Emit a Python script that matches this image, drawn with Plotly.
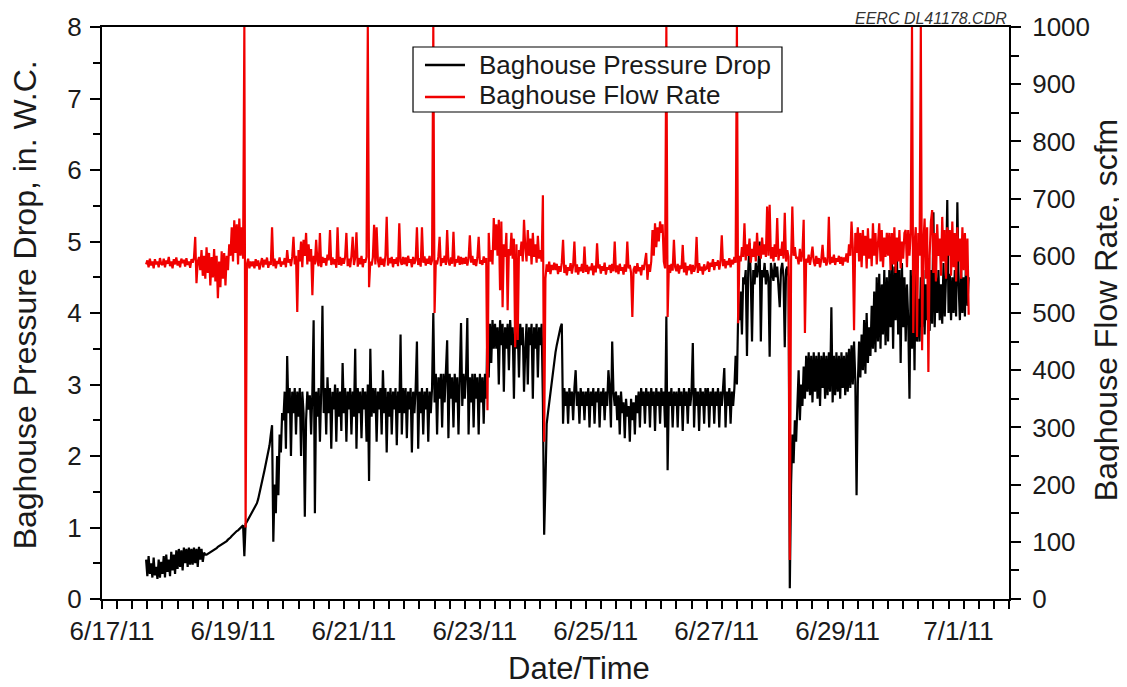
import pandas as pd
import plotly.graph_objects as go

# ---------------- data (30-min samples) ----------------
start_time = "2011-06-17 17:30"
sample_step = "30min"

# Baghouse pressure drop, in. W.C. (one list per day)
dp_0617 = [0.55,0.32,0.6,0.35,0.5,0.3,0.58,0.33,0.45,0.28,0.55,0.3,0.52]
dp_0618 = [0.35,0.6,0.3,0.62,0.38,0.55,0.32,0.66,0.4,0.62,0.35,0.68,0.42,0.7,0.45,0.68,0.4,0.72,0.5,0.7,0.45,0.72,0.48,0.7,
           0.48,0.72,0.5,0.7,0.45,0.73,0.55,0.7,0.52,0.65,0.62,0.62,0.63,0.65,0.66,0.66,0.68,0.69,0.7,0.71,0.73,0.74,0.75,0.77]
dp_0619 = [0.77,0.78,0.8,0.81,0.83,0.84,0.86,0.88,0.9,0.91,0.93,0.95,0.96,0.98,0.99,1.01,1.03,0.6,1.05,1.08,1.11,1.14,1.17,1.2,
           1.24,1.27,1.3,1.34,1.4,1.47,1.55,1.63,1.72,1.8,1.88,1.95,2.05,2.15,2.3,2.43,0.8,1.6,1.2,2.0,1.45,2.3,2.05,2.6]
dp_0620 = [2.5,2.9,2.1,3.4,2.6,2.95,2.0,2.9,2.6,2.95,2.3,2.9,2.55,2.95,2.0,2.9,2.6,1.15,2.5,2.9,2.65,2.85,2.3,2.9,
           3.9,1.2,2.9,2.55,2.95,2.2,2.9,4.1,2.6,2.95,2.3,3.1,2.6,2.95,2.1,2.9,2.65,3.0,2.2,2.95,2.55,2.9,2.35,3.3]
dp_0621 = [2.6,2.95,2.2,2.9,2.65,2.95,2.3,2.9,2.55,3.5,2.1,2.95,2.6,2.9,2.25,2.95,2.65,2.9,2.2,3.0,1.65,3.5,2.55,2.95,
           2.6,2.95,2.2,2.9,2.65,2.95,2.3,3.2,2.6,2.95,2.05,2.9,2.55,2.95,2.3,2.9,2.65,2.95,2.15,2.9,2.6,3.7,2.3,2.95]
dp_0622 = [2.6,2.95,2.25,2.9,2.65,2.95,2.05,2.9,2.6,2.95,3.6,2.1,2.9,2.6,2.95,2.3,2.9,2.65,2.95,2.2,2.9,2.6,2.95,4.0,
           2.75,3.15,2.3,3.1,2.8,3.15,2.4,3.15,2.75,3.1,3.62,2.25,3.15,2.8,3.1,2.4,3.15,2.75,3.1,2.3,3.15,3.86,2.7,3.15]
dp_0623 = [2.8,3.15,3.93,2.3,3.1,2.75,3.15,2.4,3.15,2.8,3.1,2.3,3.15,2.75,3.1,2.45,3.15,2.8,3.85,3.1,3.85,3.3,3.9,3.5,
           3.85,3.5,3.8,3.0,3.9,3.55,3.85,2.9,3.8,3.5,3.85,3.2,3.9,3.55,3.8,2.8,3.85,3.5,3.8,3.1,3.85,3.55,3.8,2.9]
dp_0624 = [3.5,3.85,3.0,3.8,3.55,3.85,2.8,3.8,3.5,3.85,3.1,3.8,3.55,3.85,2.75,0.9,1.6,2.45,2.6,2.75,2.9,3.05,3.2,3.35,
           3.45,3.55,3.65,3.72,3.8,3.85,2.45,2.95,2.7,2.9,2.45,2.95,2.7,2.9,2.5,2.95,3.2,2.7,2.9,2.45,2.95,2.7,2.9,2.5]
dp_0625 = [2.9,2.7,2.95,2.4,2.9,2.7,2.95,2.45,2.9,2.75,2.95,2.4,2.9,2.7,2.95,2.5,2.9,2.7,3.2,2.95,2.4,3.6,2.9,2.7,
           2.9,2.5,2.85,2.3,2.9,2.6,2.75,2.25,2.8,2.55,2.7,2.2,2.8,2.5,2.75,2.3,2.85,2.6,2.9,2.4,2.95,2.7,2.9,2.45]
dp_0626 = [2.95,2.7,2.9,2.4,2.95,2.7,2.9,2.35,2.95,2.7,2.9,2.45,2.95,2.7,2.9,2.4,3.95,1.8,2.9,2.7,2.95,2.4,2.9,2.7,
           2.9,2.4,2.95,2.7,2.9,2.35,2.95,2.7,2.9,2.45,2.95,2.7,2.9,3.58,2.4,2.95,2.7,2.9,2.35,2.95,2.7,2.9,2.45,2.95]
dp_0627 = [2.7,2.95,2.4,2.9,2.7,2.95,2.45,2.9,2.7,2.95,2.4,2.9,2.7,2.95,3.23,2.4,2.9,2.7,2.95,2.45,2.9,2.7,2.95,3.4,
           3.0,4.0,3.9,4.3,3.7,4.5,4.4,4.6,3.4,4.6,4.98,4.5,3.6,4.6,4.4,4.7,4.5,4.65,5.0,3.6,4.6,4.5,4.7,4.4]
dp_0628 = [4.6,4.5,3.39,4.7,4.6,4.45,4.7,4.5,4.65,4.4,4.08,4.6,4.7,4.5,3.52,4.6,4.65,4.5,0.15,1.6,2.3,1.9,2.5,2.2,
           2.6,3.2,2.5,3.0,2.7,3.25,2.8,3.4,2.9,3.45,2.85,3.4,2.75,3.45,2.9,3.4,2.8,3.45,2.7,3.4,2.95,3.45,2.8,3.4]
dp_0629 = [2.85,3.45,2.9,4.08,2.75,3.4,2.85,3.45,2.9,3.4,2.8,3.45,2.95,3.4,2.85,3.45,2.9,3.5,2.95,3.55,3.0,3.6,3.05,1.45,
           3.0,3.6,3.1,3.7,3.2,3.9,3.15,4.0,3.3,3.8,3.4,4.1,3.5,4.3,3.45,4.5,3.6,4.55,3.5,4.4,3.7,4.6,3.55,4.5]
dp_0630 = [3.6,4.6,3.8,4.7,3.5,4.65,3.9,4.85,3.7,4.6,3.3,4.7,3.8,4.5,3.6,4.4,3.9,2.8,4.6,3.5,4.7,3.2,4.85,3.6,
           4.2,3.6,4.5,3.8,4.6,3.7,4.4,3.9,4.5,3.75,4.6,3.85,5.41,3.8,4.5,4.0,4.6,3.9,4.4,3.85,4.7,3.95,4.5,5.58]
dp_0701 = [4.0,4.55,3.9,4.5,4.0,4.6,3.95,5.55,4.4,3.9,4.6,4.0,4.5,3.95,4.9,4.1,4.5]

# Baghouse flow rate, scfm (one list per day)
fl_0617 = [585,592,580,595,583,590,578,594,585,590,580,596,586]
fl_0618 = [584,595,580,592,586,598,582,590,578,594,585,597,583,591,580,595,587,593,581,596,584,590,579,594,
           588,596,633,552,590,598,575,610,565,600,560,615,570,605,548,598,562,612,555,600,526,590,545,608]
fl_0619 = [560,605,548,600,575,620,600,650,590,662,605,655,585,665,600,650,595,1000,125,585,595,578,590,582,
           590,578,594,582,592,576,588,596,580,593,585,597,579,590,584,650,582,595,578,591,586,597,581,590]
fl_0620 = [585,596,580,610,588,594,582,598,633,585,600,502,610,590,625,580,628,600,640,585,620,590,612,531,
           600,585,628,590,582,640,580,598,588,596,583,602,592,645,584,597,585,594,579,650,584,598,583,596]
fl_0621 = [586,598,640,582,595,580,600,633,584,597,641,581,596,585,600,580,594,588,598,1000,545,590,583,597,
           654,585,650,592,580,598,584,595,581,600,668,583,596,587,598,580,594,586,597,582,657,590,584,598]
fl_0622 = [585,597,582,600,588,594,580,598,586,592,650,584,596,581,650,588,599,583,595,586,600,584,592,1000,
           500,592,585,598,633,582,596,588,600,584,645,590,583,597,586,642,581,594,588,600,584,598,585,596]
fl_0623 = [586,598,583,595,636,588,600,584,594,582,597,633,586,592,584,599,588,596,330,640,590,610,585,666,
           610,655,600,663,540,660,510,620,598,640,505,612,600,640,595,630,440,620,453,610,600,625,590,663]
fl_0624 = [615,590,645,600,630,585,640,598,620,588,635,595,610,590,706,275,560,585,572,590,568,584,575,588,
           575,586,568,582,572,588,628,570,584,566,580,574,587,569,583,625,571,585,567,580,573,586,570,616]
fl_0625 = [572,584,568,581,575,587,566,583,571,622,578,585,569,582,574,588,567,580,576,584,570,586,573,625,
           571,583,568,586,574,580,567,585,572,625,578,584,570,493,576,582,569,587,573,580,566,584,575,588]
fl_0626 = [605,558,585,572,590,645,600,657,615,650,625,660,640,655,590,578,1000,493,584,570,586,574,628,580,
           573,586,569,583,577,619,571,588,566,582,575,585,568,584,572,580,633,570,587,574,581,567,585,576]
fl_0627 = [578,590,572,588,581,594,575,589,583,592,576,590,636,582,594,578,591,584,596,580,593,585,598,588,
           1000,482,600,590,615,598,657,592,620,600,630,588,612,598,625,590,640,600,618,595,632,602,620,598]
fl_0628 = [686,600,689,595,615,590,620,598,666,592,612,600,625,595,675,590,610,598,68,590,686,600,615,595,
           598,585,612,590,605,663,465,595,588,602,584,598,616,590,582,600,586,596,580,594,619,588,597,583]
fl_0629 = [590,668,585,598,588,602,584,596,590,600,586,598,583,597,590,604,588,620,600,660,615,470,640,605,
           650,590,640,580,645,600,635,578,648,595,630,582,657,600,640,585,620,657,590,645,580,632,598,640]
fl_0630 = [600,640,575,640,585,650,570,632,590,645,578,625,595,640,645,580,645,600,640,1000,465,620,650,458,
           640,600,1000,435,620,665,560,650,397,600,660,680,570,640,555,655,600,630,565,668,590,645,560,650]
fl_0701 = [600,645,565,660,580,640,555,650,590,630,560,650,575,640,565,630,497]

# axis tick labels and legend entries
x_tick_labels = ["6/17/11", "6/19/11", "6/21/11", "6/23/11", "6/25/11", "6/27/11", "6/29/11", "7/1/11"]
series_names = ["Baghouse Pressure Drop", "Baghouse Flow Rate"]
series_colors = ["black", "#f00000"]

pressure = (dp_0617 + dp_0618 + dp_0619 + dp_0620 + dp_0621 + dp_0622 + dp_0623 + dp_0624
            + dp_0625 + dp_0626 + dp_0627 + dp_0628 + dp_0629 + dp_0630 + dp_0701)
flow = (fl_0617 + fl_0618 + fl_0619 + fl_0620 + fl_0621 + fl_0622 + fl_0623 + fl_0624
        + fl_0625 + fl_0626 + fl_0627 + fl_0628 + fl_0629 + fl_0630 + fl_0701)
assert len(pressure) == len(flow), (len(pressure), len(flow))
times = pd.date_range(start_time, periods=len(pressure), freq=sample_step)

# ---------------- figure ----------------
FONT = "Liberation Sans, Arial, sans-serif"
INK = "#1a1a1a"

fig = go.Figure()
fig.add_trace(go.Scatter(x=times, y=pressure, mode="lines", name=series_names[0],
                         line=dict(color=series_colors[0], width=2.2), yaxis="y"))
fig.add_trace(go.Scatter(x=times, y=flow, mode="lines", name=series_names[1],
                         line=dict(color=series_colors[1], width=2.2), yaxis="y2"))

tick_times = pd.date_range("2011-06-17 00:00", "2011-07-02 00:00", freq="6h")
tick_text = []
label_iter = iter(x_tick_labels)
for i, _ in enumerate(tick_times):
    tick_text.append(next(label_iter, "") if i % 8 == 0 else "")

# the page body has an 8 px margin; size the figure so the plot box lands where the reference has it
fig.update_layout(
    width=1119, height=679,
    margin=dict(l=94, r=118, t=19, b=88, autoexpand=False),
    paper_bgcolor="white", plot_bgcolor="white",
    font=dict(family=FONT, color=INK),
    showlegend=False,
    xaxis=dict(range=["2011-06-17 00:00", "2011-07-02 00:00"], automargin=False,
               tickmode="array", tickvals=list(tick_times), ticktext=tick_text,
               ticks="outside", ticklen=8, tickwidth=1.5, tickcolor="black",
               ticklabelshift=10, ticklabelstandoff=0,
               showline=True, linecolor="black", linewidth=2, mirror=True,
               showgrid=False, zeroline=False,
               tickfont=dict(size=26, color=INK)),
    yaxis=dict(range=[0, 8], automargin=False, tickmode="array", tickvals=[0,1,2,3,4,5,6,7,8],
               ticks="outside", ticklen=10, tickwidth=1.5, tickcolor="black",
               ticklabelstandoff=3,
               minor=dict(dtick=0.5, ticks="outside", ticklen=7, tickwidth=1.5, tickcolor="black", showgrid=False),
               showline=True, linecolor="black", linewidth=2,
               showgrid=False, zeroline=False,
               tickfont=dict(size=26, color=INK)),
    yaxis2=dict(range=[0, 1000], automargin=False, overlaying="y", side="right",
                tickmode="linear", tick0=0, dtick=100,
                ticks="outside", ticklen=10, tickwidth=1.5, tickcolor="black",
                ticklabelstandoff=6,
                minor=dict(dtick=50, ticks="outside", ticklen=8, tickwidth=1.5, tickcolor="black", showgrid=False),
                showline=True, linecolor="black", linewidth=2,
                showgrid=False, zeroline=False,
                tickfont=dict(size=26, color=INK)),
)

# legend drawn as a framed box with line samples and text
fig.add_shape(type="rect", xref="paper", yref="paper", x0=0.3429, x1=0.7497, y0=0.8514, y1=0.9650,
              line=dict(color="black", width=1.2), fillcolor="white", layer="above")
legend_rows_y = [0.9336, 0.8776]
legend_text_y = [0.9340, 0.8810]
for name, color, ly, ty in zip(series_names, series_colors, legend_rows_y, legend_text_y):
    fig.add_shape(type="line", xref="paper", yref="paper", x0=0.3561, x1=0.4002, y0=ly, y1=ly,
                  line=dict(color=color, width=2.5), layer="above")
    fig.add_annotation(text=name, xref="paper", yref="paper", x=0.4135, y=ty,
                       xanchor="left", yanchor="middle", showarrow=False,
                       font=dict(size=26, color=INK))

fig.add_annotation(text="Date/Time", xref="paper", yref="paper", x=0.526, y=-0.121,
                   xanchor="center", yanchor="middle", showarrow=False,
                   font=dict(size=31, color=INK))
fig.add_annotation(text="Baghouse Pressure Drop, in. W.C.", xref="paper", yref="paper",
                   x=-0.0845, y=0.514, xanchor="center", yanchor="middle", textangle=-90,
                   showarrow=False, font=dict(size=32, color=INK))
fig.add_annotation(text="Baghouse Flow Rate, scfm", xref="paper", yref="paper",
                   x=1.107, y=0.505, xanchor="center", yanchor="middle", textangle=-90,
                   showarrow=False, font=dict(size=32, color=INK))
fig.add_annotation(text="<i>EERC DL41178.CDR</i>", xref="paper", yref="paper",
                   x=1.0, y=1.014, xanchor="right", yanchor="middle", showarrow=False,
                   font=dict(size=16, color="#333333"))

fig.write_html("out.html")
